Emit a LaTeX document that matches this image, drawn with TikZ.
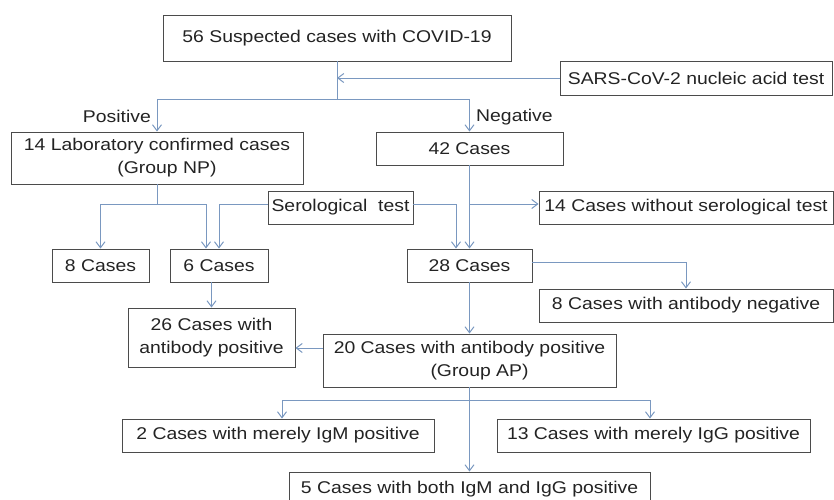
\documentclass[tikz,border=0pt]{standalone}
\usepackage{fontspec}
\setmainfont{Liberation Sans}[FakeStretch=1.14]
\usetikzlibrary{arrows.meta}
\usetikzlibrary{calc}

\definecolor{linkblue}{RGB}{122,152,192}
\definecolor{boxgray}{RGB}{75,75,75}
\definecolor{inkgray}{RGB}{35,35,35}

\begin{document}
\begin{tikzpicture}[x=1pt,y=-1pt,
    box/.style={draw=boxgray,line width=0.9pt,inner sep=0pt,align=center,
                text=inkgray,font=\fontsize{17}{23}\selectfont},
    link/.style={draw=linkblue,line width=1pt},
    arr/.style={link,-{Straight Barb[length=6pt,width=9pt]}},
    lbl/.style={text=inkgray,font=\fontsize{17}{20}\selectfont,inner sep=0pt}]
    \useasboundingbox (0,0) rectangle (834,499);
    % boxes
    \node[box,minimum width=348,minimum height=46] (susp)  at (337,38)      {56 Suspected cases with COVID-19};
    \node[box,minimum width=272,minimum height=34] (sars)  at (696,78)      {SARS-CoV-2 nucleic acid test};
    \node[box,minimum width=292,minimum height=52] (lab14) at (157,158)     {14 Laboratory confirmed cases\\\hspace*{20pt}(Group NP)};
    \node[box,minimum width=187,minimum height=33] (c42)   at (469.5,148.5) {42 Cases};
    \node[box,minimum width=145,minimum height=33] (sero)  at (340.5,207.5) {Serological\ \ test};
    \node[box,minimum width=294,minimum height=33] (nosero) at (686,207.5)  {14 Cases without serological test};
    \node[box,minimum width=97,minimum height=33]  (c8)    at (100.5,265.5) {8 Cases};
    \node[box,minimum width=98,minimum height=33]  (c6)    at (219,265.5)   {6 Cases};
    \node[box,minimum width=125,minimum height=33] (c28)   at (469.5,265.5) {28 Cases};
    \node[box,minimum width=294,minimum height=33] (abneg) at (686,305.5)   {8 Cases with antibody negative};
    \node[box,minimum width=167,minimum height=59] (c26)   at (211.5,337.5) {26 Cases with\\antibody positive};
    \node[box,minimum width=293,minimum height=53] (ap20)  at (469.5,360.5) {20 Cases with antibody positive\\\hspace*{20pt}(Group AP)};
    \node[box,minimum width=312,minimum height=33] (igm2)  at (278,435.5)   {2 Cases with merely IgM positive};
    \node[box,minimum width=313,minimum height=33] (igg13) at (653.5,435.5) {13 Cases with merely IgG positive};
    \node[box,minimum width=361,minimum height=34] (both5) at (469.5,489)   {5 Cases with both IgM and IgG positive};
    % labels
    \node[lbl,anchor=east] (pos) at (151,116) {Positive};
    \node[lbl,anchor=west] (neg) at (476,117) {Negative};
    % nucleic acid test
    \draw[link] (susp.south) -- (337,99) coordinate (split_a);
    \draw[arr] (sars.west) -- (susp.south |- sars.west);
    \draw[arr] (split_a) -| (lab14.north);
    \draw[arr] (split_a) -| (c42.north);
    % serological test
    \coordinate (row_b) at (0,204);
    \draw[link] (lab14.south) -- (lab14.south |- row_b) coordinate (split_b);
    \draw[arr] (split_b) -| (c8.north);
    \draw[arr] (split_b) -| ([xshift=-13]c6.north);
    \draw[arr] (sero.west |- row_b) -| (c6.north);
    \draw[arr] (sero.east |- row_b) -| ([xshift=-13.5]c28.north);
    \draw[arr] (c42.south) -- (c28.north);
    \draw[arr] (c42.south |- row_b) -- (nosero.west |- row_b);
    \draw[arr] (c6.south -| c26.north) -- (c26.north);
    % antibody
    \draw[arr] ([yshift=3.5]c28.east) -| (abneg.north);
    \draw[arr] (c28.south) -- (ap20.north);
    \coordinate (ap_left) at ([yshift=12.5]ap20.west);
    \draw[arr] (ap_left) -- (ap_left -| c26.east);
    \coordinate (row_d) at (0,400);
    \draw[arr] (ap20.south) -- (both5.north);
    \draw[arr] (ap20.south |- row_d) -| ([xshift=4]igm2.north);
    \draw[arr] (ap20.south |- row_d) -| ([xshift=-3.5]igg13.north);
\end{tikzpicture}
\end{document}
